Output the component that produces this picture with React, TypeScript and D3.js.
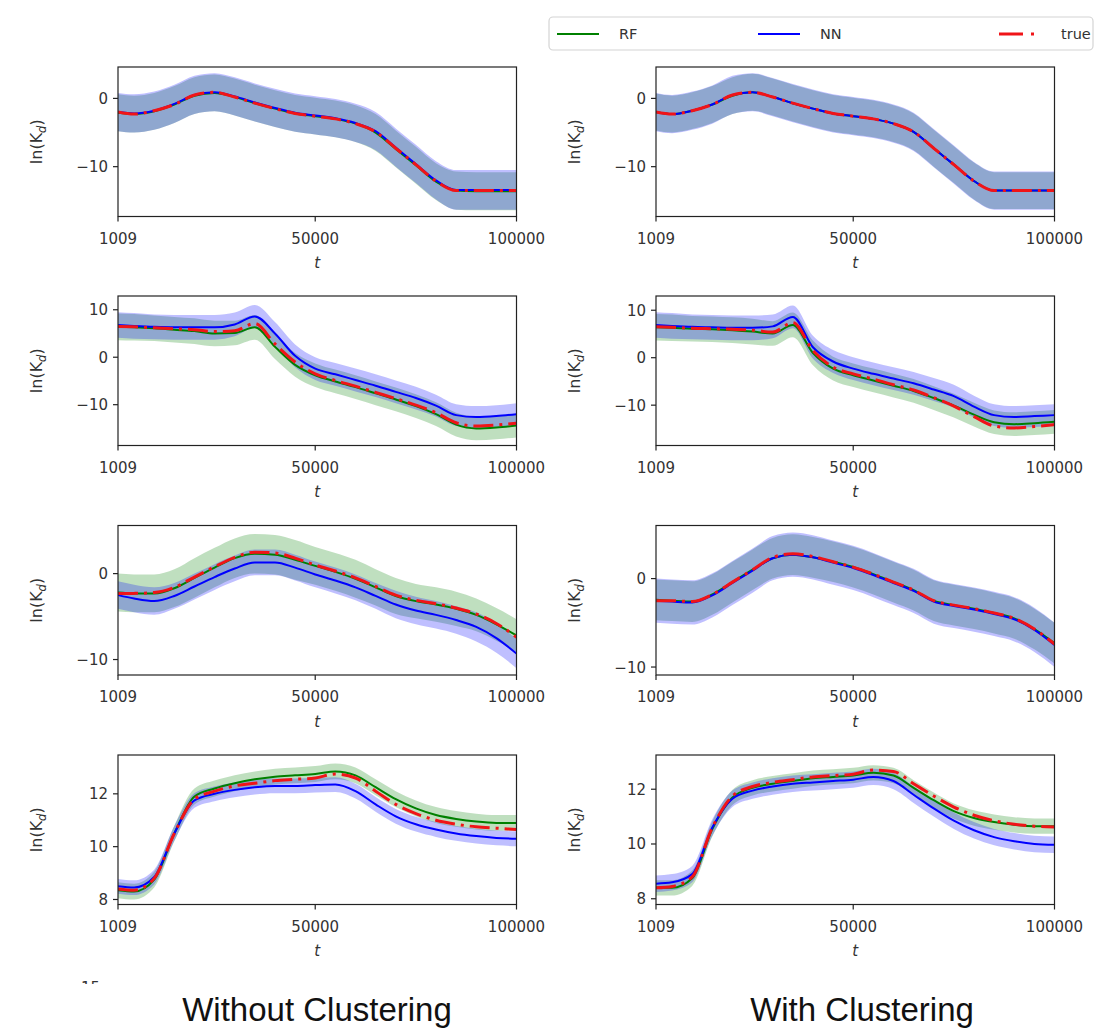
import React from "react";
import * as d3 from "d3";

// Shared time grid (t) and axis ticks
const T = [1009, 5000, 10000, 15000, 20000, 25000, 30000, 35000, 40000, 45000, 50000, 55000, 60000, 65000, 70000, 75000, 80000, 85000, 90000, 95000, 100000];
const X_TICKS = [1009, 50000, 100000];
const COLUMN_TITLES = ["Without Clustering", "With Clustering"];
const LEGEND_LABELS = ["RF", "NN", "true"];

// Case 1
const c1Ticks = [-10, 0];
const c1DomainWo = [-17.3, 4.6];
const c1DomainW = [-17.3, 4.6];
const c1WoTrue = [-2.0, -2.3, -1.8, -0.9, 0.5, 0.9, 0.2, -0.7, -1.5, -2.2, -2.6, -3.0, -3.7, -4.9, -7.3, -9.7, -12.1, -13.5, -13.5, -13.5, -13.5];
const c1WoNN = [-2.0, -2.2, -1.8, -0.8, 0.5, 0.9, 0.3, -0.6, -1.4, -2.1, -2.5, -2.9, -3.6, -4.8, -7.2, -9.6, -12.0, -13.4, -13.4, -13.4, -13.4];
const c1WoRF = [-2.1, -2.3, -1.9, -0.9, 0.4, 0.8, 0.2, -0.7, -1.5, -2.2, -2.6, -3.0, -3.7, -5.0, -7.4, -9.8, -12.2, -13.5, -13.6, -13.6, -13.6];
const c1WoNNSd = [2.8, 2.8, 2.8, 2.8, 2.8, 2.8, 2.8, 2.8, 2.8, 2.8, 2.8, 2.8, 2.8, 2.8, 2.8, 2.8, 2.8, 2.9, 2.9, 2.9, 2.9];
const c1WoRFSd = [2.7, 2.7, 2.7, 2.7, 2.7, 2.7, 2.7, 2.7, 2.7, 2.7, 2.7, 2.7, 2.7, 2.7, 2.7, 2.7, 2.7, 2.8, 2.8, 2.8, 2.8];
const c1WTrue = [-2.0, -2.3, -1.8, -0.9, 0.5, 0.9, 0.2, -0.7, -1.5, -2.2, -2.6, -3.0, -3.7, -4.9, -7.3, -9.7, -12.1, -13.5, -13.5, -13.5, -13.5];
const c1WNN = [-2.0, -2.3, -1.8, -0.9, 0.5, 0.9, 0.2, -0.7, -1.5, -2.2, -2.6, -3.0, -3.7, -4.9, -7.3, -9.7, -12.1, -13.5, -13.5, -13.5, -13.5];
const c1WRF = [-2.0, -2.3, -1.8, -0.9, 0.4, 0.9, 0.2, -0.7, -1.5, -2.2, -2.6, -3.0, -3.7, -4.9, -7.3, -9.7, -12.1, -13.5, -13.5, -13.5, -13.5];
const c1WNNSd = [2.8, 2.8, 2.8, 2.8, 2.8, 2.8, 2.8, 2.8, 2.8, 2.8, 2.8, 2.8, 2.8, 2.8, 2.8, 2.8, 2.8, 2.8, 2.8, 2.8, 2.8];
const c1WRFSd = [2.7, 2.7, 2.7, 2.7, 2.7, 2.7, 2.7, 2.7, 2.7, 2.7, 2.7, 2.7, 2.7, 2.7, 2.7, 2.7, 2.7, 2.7, 2.7, 2.7, 2.7];

// Case 2
const c2Ticks = [-10, 0, 10];
const c2DomainWo = [-18.6, 12.9];
const c2DomainW = [-18.5, 13.0];
const c2WoTrue = [6.5, 6.4, 6.2, 6.0, 5.8, 5.4, 5.6, 7.1, 2.8, -1.0, -3.5, -4.9, -6.1, -7.4, -8.7, -10.1, -11.7, -13.8, -14.5, -14.3, -13.9];
const c2WoNN = [6.8, 6.6, 6.4, 6.3, 6.3, 6.3, 6.9, 8.6, 5.0, 0.3, -2.4, -3.6, -4.8, -6.0, -7.3, -8.6, -10.2, -12.2, -12.6, -12.4, -12.0];
const c2WoRF = [6.4, 6.3, 6.1, 5.8, 5.5, 5.0, 5.1, 6.3, 2.2, -1.6, -3.8, -5.1, -6.3, -7.6, -8.9, -10.3, -12.0, -14.2, -15.0, -14.8, -14.4];
const c2WoNNSd = [2.7, 2.7, 2.6, 2.6, 2.6, 2.6, 2.5, 2.4, 2.4, 2.4, 2.4, 2.4, 2.4, 2.4, 2.4, 2.4, 2.3, 2.3, 2.3, 2.3, 2.3];
const c2WoRFSd = [2.8, 2.8, 2.7, 2.7, 2.7, 2.7, 2.6, 2.6, 2.6, 2.5, 2.5, 2.5, 2.5, 2.5, 2.5, 2.5, 2.5, 2.5, 2.5, 2.5, 2.5];
const c2WTrue = [6.5, 6.4, 6.2, 6.1, 6.0, 5.8, 5.4, 7.4, 1.5, -2.0, -3.4, -4.5, -5.7, -6.8, -8.4, -10.2, -12.4, -14.4, -14.8, -14.5, -14.1];
const c2WNN = [6.9, 6.7, 6.5, 6.4, 6.3, 6.3, 6.6, 8.6, 2.2, -0.8, -2.3, -3.4, -4.4, -5.4, -6.7, -8.1, -10.3, -12.1, -12.5, -12.3, -12.1];
const c2WRF = [6.4, 6.3, 6.1, 6.0, 5.8, 5.5, 5.1, 6.9, 1.0, -2.3, -3.7, -4.8, -5.9, -7.0, -8.5, -10.1, -12.0, -13.6, -14.0, -13.8, -13.5];
const c2WNNSd = [2.7, 2.7, 2.6, 2.6, 2.6, 2.6, 2.5, 2.4, 2.4, 2.4, 2.4, 2.4, 2.4, 2.4, 2.4, 2.4, 2.3, 2.3, 2.3, 2.3, 2.3];
const c2WRFSd = [2.8, 2.8, 2.7, 2.7, 2.7, 2.7, 2.6, 2.6, 2.6, 2.5, 2.5, 2.5, 2.5, 2.5, 2.5, 2.5, 2.5, 2.5, 2.5, 2.5, 2.5];

// Case 3
const c3Ticks = [-10, 0];
const c3DomainWo = [-11.8, 5.6];
const c3DomainW = [-10.9, 6.0];
const c3WoTrue = [-2.3, -2.3, -2.2, -1.6, -0.4, 0.8, 1.9, 2.5, 2.4, 1.8, 1.0, 0.3, -0.5, -1.5, -2.5, -3.1, -3.5, -4.0, -4.7, -5.8, -7.4];
const c3WoNN = [-2.5, -2.9, -3.2, -2.6, -1.5, -0.4, 0.6, 1.3, 1.3, 0.7, -0.1, -0.8, -1.6, -2.6, -3.6, -4.3, -4.8, -5.4, -6.2, -7.5, -9.3];
const c3WoRF = [-2.2, -2.3, -2.3, -1.7, -0.5, 0.7, 1.8, 2.3, 2.2, 1.6, 0.9, 0.2, -0.6, -1.6, -2.6, -3.2, -3.6, -4.1, -4.8, -5.9, -7.2];
const c3WoNNSd = [1.6, 1.6, 1.6, 1.5, 1.5, 1.5, 1.5, 1.5, 1.5, 1.5, 1.5, 1.5, 1.5, 1.5, 1.6, 1.6, 1.6, 1.6, 1.7, 1.7, 1.7];
const c3WoRFSd = [2.2, 2.2, 2.2, 2.2, 2.3, 2.3, 2.3, 2.3, 2.3, 2.3, 2.2, 2.2, 2.2, 2.1, 2.1, 2.0, 2.0, 2.0, 1.9, 1.9, 1.9];
const c3WTrue = [-2.5, -2.5, -2.6, -1.8, -0.4, 1.0, 2.4, 2.8, 2.5, 1.9, 1.3, 0.5, -0.4, -1.3, -2.5, -3.0, -3.4, -3.9, -4.5, -5.7, -7.4];
const c3WNN = [-2.5, -2.6, -2.7, -1.9, -0.5, 0.9, 2.3, 2.7, 2.4, 1.8, 1.2, 0.4, -0.5, -1.4, -2.6, -3.1, -3.5, -4.0, -4.6, -5.8, -7.5];
const c3WRF = [-2.4, -2.5, -2.6, -1.8, -0.4, 1.0, 2.3, 2.7, 2.4, 1.9, 1.3, 0.5, -0.4, -1.3, -2.5, -3.0, -3.4, -3.9, -4.5, -5.7, -7.3];
const c3WNNSd = [2.5, 2.5, 2.5, 2.5, 2.5, 2.5, 2.5, 2.5, 2.5, 2.5, 2.5, 2.5, 2.5, 2.5, 2.5, 2.5, 2.5, 2.5, 2.5, 2.5, 2.5];
const c3WRFSd = [2.3, 2.3, 2.3, 2.3, 2.3, 2.3, 2.3, 2.3, 2.3, 2.3, 2.3, 2.3, 2.3, 2.3, 2.3, 2.3, 2.3, 2.3, 2.3, 2.3, 2.3];

// Case 4
const c4Ticks = [8, 10, 12];
const c4DomainWo = [7.81, 13.47];
const c4DomainW = [7.79, 13.25];
const c4WoTrue = [8.4, 8.35, 8.8, 10.5, 11.8, 12.1, 12.3, 12.4, 12.5, 12.55, 12.6, 12.75, 12.6, 12.1, 11.6, 11.25, 11.0, 10.85, 10.75, 10.7, 10.65];
const c4WoNN = [8.5, 8.45, 8.85, 10.5, 11.75, 12.0, 12.15, 12.25, 12.3, 12.3, 12.33, 12.35, 12.1, 11.6, 11.15, 10.85, 10.65, 10.5, 10.4, 10.33, 10.3];
const c4WoRF = [8.35, 8.3, 8.75, 10.5, 11.9, 12.2, 12.4, 12.55, 12.65, 12.7, 12.75, 12.85, 12.7, 12.25, 11.8, 11.45, 11.2, 11.05, 10.95, 10.9, 10.9];
const c4WoNNSd = [0.28, 0.28, 0.28, 0.28, 0.28, 0.28, 0.28, 0.28, 0.28, 0.28, 0.28, 0.28, 0.28, 0.28, 0.28, 0.28, 0.28, 0.28, 0.28, 0.28, 0.28];
const c4WoRFSd = [0.3, 0.3, 0.3, 0.3, 0.3, 0.3, 0.3, 0.3, 0.3, 0.3, 0.3, 0.3, 0.3, 0.3, 0.3, 0.3, 0.3, 0.3, 0.3, 0.3, 0.3];
const c4WTrue = [8.4, 8.45, 8.8, 10.6, 11.75, 12.1, 12.25, 12.35, 12.45, 12.5, 12.55, 12.7, 12.65, 12.2, 11.75, 11.35, 11.05, 10.85, 10.72, 10.65, 10.62];
const c4WNN = [8.55, 8.6, 8.9, 10.6, 11.65, 11.95, 12.1, 12.2, 12.25, 12.3, 12.35, 12.45, 12.3, 11.8, 11.3, 10.85, 10.5, 10.25, 10.1, 10.0, 9.97];
const c4WRF = [8.4, 8.4, 8.75, 10.55, 11.7, 12.05, 12.2, 12.3, 12.4, 12.45, 12.5, 12.6, 12.5, 12.05, 11.6, 11.2, 10.95, 10.8, 10.7, 10.65, 10.65];
const c4WNNSd = [0.3, 0.3, 0.3, 0.3, 0.3, 0.3, 0.3, 0.3, 0.3, 0.3, 0.3, 0.3, 0.3, 0.3, 0.3, 0.3, 0.3, 0.3, 0.3, 0.3, 0.3];
const c4WRFSd = [0.28, 0.28, 0.28, 0.28, 0.28, 0.28, 0.28, 0.28, 0.28, 0.28, 0.28, 0.28, 0.28, 0.28, 0.28, 0.28, 0.28, 0.28, 0.28, 0.28, 0.28];

// Layout
const WIDTH = 1112;
const HEIGHT = 1034;
const COL_X = [118, 656];
const ROW_Y = [67, 296, 525.5, 755];
const PLOT_W = 398.5;
const PLOT_H = 149.5;

const RF_COLOR = "#008000";
const NN_COLOR = "#0000ff";
const TRUE_COLOR = "#f01418";
const TEXT_COLOR = "#333";
const TICK_FONT = "'DejaVu Sans', sans-serif";
const TITLE_FONT = "'Liberation Sans', Arial, sans-serif";

type PanelData = {
  domain: number[];
  ticks: number[];
  truth: number[];
  nn: number[];
  rf: number[];
  nnSd: number[];
  rfSd: number[];
};

const rows: { wo: PanelData; w: PanelData }[] = [
  {
    wo: { domain: c1DomainWo, ticks: c1Ticks, truth: c1WoTrue, nn: c1WoNN, rf: c1WoRF, nnSd: c1WoNNSd, rfSd: c1WoRFSd },
    w: { domain: c1DomainW, ticks: c1Ticks, truth: c1WTrue, nn: c1WNN, rf: c1WRF, nnSd: c1WNNSd, rfSd: c1WRFSd },
  },
  {
    wo: { domain: c2DomainWo, ticks: c2Ticks, truth: c2WoTrue, nn: c2WoNN, rf: c2WoRF, nnSd: c2WoNNSd, rfSd: c2WoRFSd },
    w: { domain: c2DomainW, ticks: c2Ticks, truth: c2WTrue, nn: c2WNN, rf: c2WRF, nnSd: c2WNNSd, rfSd: c2WRFSd },
  },
  {
    wo: { domain: c3DomainWo, ticks: c3Ticks, truth: c3WoTrue, nn: c3WoNN, rf: c3WoRF, nnSd: c3WoNNSd, rfSd: c3WoRFSd },
    w: { domain: c3DomainW, ticks: c3Ticks, truth: c3WTrue, nn: c3WNN, rf: c3WRF, nnSd: c3WNNSd, rfSd: c3WRFSd },
  },
  {
    wo: { domain: c4DomainWo, ticks: c4Ticks, truth: c4WoTrue, nn: c4WoNN, rf: c4WoRF, nnSd: c4WoNNSd, rfSd: c4WoRFSd },
    w: { domain: c4DomainW, ticks: c4Ticks, truth: c4WTrue, nn: c4WNN, rf: c4WRF, nnSd: c4WNNSd, rfSd: c4WRFSd },
  },
];

const fmt = (v: number) => (v < 0 ? "\u2212" + Math.abs(v) : String(v));

function Panel({ id, x0, y0, data }: { id: string; x0: number; y0: number; data: PanelData }) {
  const xs = d3.scaleLinear().domain([T[0], T[T.length - 1]]).range([x0, x0 + PLOT_W]);
  const ys = d3.scaleLinear().domain(data.domain).range([y0 + PLOT_H, y0]);

  const line = (vals: number[]) =>
    d3
      .line<number>()
      .x((_, i) => xs(T[i]))
      .y((d) => ys(d))
      .curve(d3.curveMonotoneX)(vals) || "";

  const band = (mean: number[], sd: number[]) =>
    d3
      .area<number>()
      .x((_, i) => xs(T[i]))
      .y0((d, i) => ys(d - sd[i]))
      .y1((d, i) => ys(d + sd[i]))
      .curve(d3.curveMonotoneX)(mean) || "";

  const bottom = y0 + PLOT_H;
  return (
    <g>
      <defs>
        <clipPath id={id}>
          <rect x={x0} y={y0} width={PLOT_W} height={PLOT_H} />
        </clipPath>
      </defs>
      <g clipPath={`url(#${id})`}>
        <path d={band(data.rf, data.rfSd)} fill={RF_COLOR} fillOpacity={0.25} />
        <path d={band(data.nn, data.nnSd)} fill={NN_COLOR} fillOpacity={0.25} />
        <path d={line(data.rf)} fill="none" stroke={RF_COLOR} strokeWidth={2} />
        <path d={line(data.nn)} fill="none" stroke={NN_COLOR} strokeWidth={2} />
        <path
          d={line(data.truth)}
          fill="none"
          stroke={TRUE_COLOR}
          strokeWidth={3}
          strokeDasharray="20 6 3 6"
        />
      </g>
      <rect x={x0} y={y0} width={PLOT_W} height={PLOT_H} fill="none" stroke="#222" strokeWidth={1.2} />
      {X_TICKS.map((t) => (
        <g key={"x" + t}>
          <line x1={xs(t)} x2={xs(t)} y1={bottom} y2={bottom + 5} stroke="#222" strokeWidth={1.2} />
          <text
            x={xs(t)}
            y={bottom + 27}
            textAnchor="middle"
            fontFamily={TICK_FONT}
            fontSize={15}
            fill={TEXT_COLOR}
          >
            {t}
          </text>
        </g>
      ))}
      {data.ticks.map((v) => (
        <g key={"y" + v}>
          <line x1={x0 - 5} x2={x0} y1={ys(v)} y2={ys(v)} stroke="#222" strokeWidth={1.2} />
          <text
            x={x0 - 10}
            y={ys(v) + 5.5}
            textAnchor="end"
            fontFamily={TICK_FONT}
            fontSize={15}
            fill={TEXT_COLOR}
          >
            {fmt(v)}
          </text>
        </g>
      ))}
      <text
        x={x0 + PLOT_W / 2}
        y={bottom + 51.5}
        textAnchor="middle"
        fontFamily={TICK_FONT}
        fontStyle="italic"
        fontSize={15}
        fill={TEXT_COLOR}
      >
        t
      </text>
      <text
        transform={`translate(${x0 - 76},${y0 + PLOT_H / 2}) rotate(-90)`}
        textAnchor="middle"
        fontFamily={TICK_FONT}
        fontSize={16}
        fill={TEXT_COLOR}
      >
        ln(K
        <tspan fontSize={11.5} fontStyle="italic" dy={3.5}>
          d
        </tspan>
        <tspan dy={-3.5}>)</tspan>
      </text>
    </g>
  );
}

function Legend() {
  const y = 34;
  const items = [
    { label: LEGEND_LABELS[0], color: RF_COLOR, x: 557, dash: undefined as string | undefined, w: 2 },
    { label: LEGEND_LABELS[1], color: NN_COLOR, x: 758, dash: undefined as string | undefined, w: 2 },
    { label: LEGEND_LABELS[2], color: TRUE_COLOR, x: 999, dash: "24 8 3 20", w: 3 },
  ];
  return (
    <g>
      <rect x={549} y={17} width={544} height={33} rx={4} fill="#fff" stroke="#d4d4d4" strokeWidth={1.2} />
      {items.map((it) => (
        <g key={it.label}>
          <line x1={it.x} x2={it.x + 42} y1={y} y2={y} stroke={it.color} strokeWidth={it.w} strokeDasharray={it.dash} />
          <text x={it.x + 62} y={y + 5} fontFamily={TICK_FONT} fontSize={14.5} fill={TEXT_COLOR}>
            {it.label}
          </text>
        </g>
      ))}
    </g>
  );
}

export default function App() {
  return (
    <svg
      width={WIDTH}
      height={HEIGHT}
      style={{ position: "absolute", left: 0, top: 0, display: "block", background: "#fff" }}
    >
      <rect x={0} y={0} width={WIDTH} height={HEIGHT} fill="#fff" />
      {rows.map((r, i) => (
        <g key={i}>
          <Panel id={`clip-wo-${i}`} x0={COL_X[0]} y0={ROW_Y[i]} data={r.wo} />
          <Panel id={`clip-w-${i}`} x0={COL_X[1]} y0={ROW_Y[i]} data={r.w} />
        </g>
      ))}
      <Legend />
      <defs>
        <clipPath id="clip-next-row">
          <rect x={60} y={979} width={60} height={5} />
        </clipPath>
      </defs>
      <text
        x={100}
        y={993}
        textAnchor="end"
        fontFamily={TICK_FONT}
        fontSize={15}
        fill={TEXT_COLOR}
        clipPath="url(#clip-next-row)"
      >
        15
      </text>
      <text x={317} y={1021} textAnchor="middle" fontFamily={TITLE_FONT} fontSize={33} fill="#111">
        {COLUMN_TITLES[0]}
      </text>
      <text x={862} y={1021} textAnchor="middle" fontFamily={TITLE_FONT} fontSize={33} fill="#111">
        {COLUMN_TITLES[1]}
      </text>
    </svg>
  );
}
